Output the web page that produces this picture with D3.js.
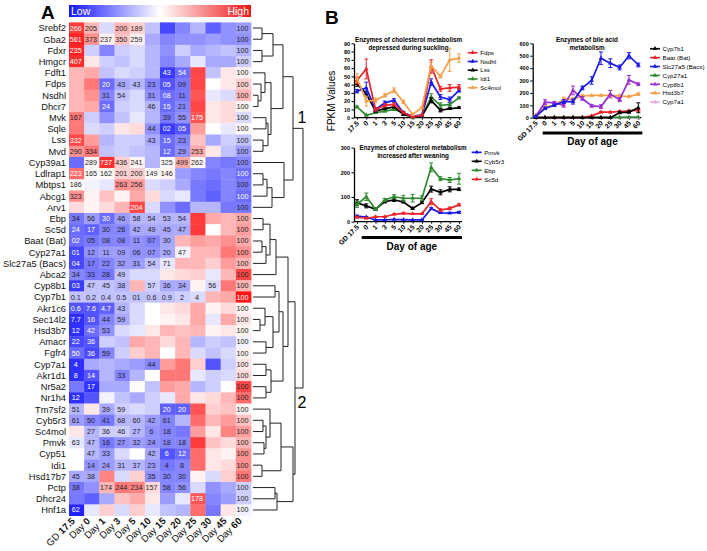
<!DOCTYPE html>
<html><head><meta charset="utf-8">
<script src="https://cdn.jsdelivr.net/npm/d3@7"></script>
<style>body{margin:0;background:#fff}svg{font-family:Arial,"Liberation Sans",Helvetica,sans-serif}</style>
</head><body><svg id="c" width="707" height="551"></svg>
<script>
// ---------------- DATA ----------------
const ages = ["GD 17.5","Day 0","Day 1","Day 3","Day 5","Day 10","Day 15","Day 20","Day 25","Day 30","Day 45","Day 60"];
const agePrefix = ["GD ","Day ","Day ","Day ","Day ","Day ","Day ","Day ","Day ","Day ","Day ","Day "];
const ageNum = ["17.5","0","1","3","5","10","15","20","25","30","45","60"];
const ageTicksGD = ["GD 17.5","0","1","3","5","10","15","20","25","30","45","60"];

const genes = ["Srebf2","Gba2","Fdxr","Hmgcr","Fdft1","Fdps","Nsdhl","Dhcr7","Mvk","Sqle","Lss","Mvd","Cyp39a1","Ldlrap1","Mbtps1","Abcg1","Arv1","Ebp","Sc5d","Baat (Bat)","Cyp27a1","Slc27a5 (Bacs)","Abca2","Cyp8b1","Cyp7b1","Akr1c6","Sec14l2","Hsd3b7","Amacr","Fgfr4","Cyp7a1","Akr1d1","Nr5a2","Nr1h4","Tm7sf2","Cyb5r3","Sc4mol","Pmvk","Cyp51","Idi1","Hsd17b7","Pctp","Dhcr24","Hnf1a"];

// relative expression (colour), -1 = low (blue) ... 1 = high (red)
const heatZ = [
 [0.8,0.3,-0.15,0.3,0.2,-0.25,-0.75,-0.5,-0.3,-0.65,-0.45,-0.4],
 [0.9,0.45,0.05,0.25,0.05,-0.35,-0.5,-0.45,-0.45,-0.4,-0.45,-0.45],
 [0.9,-0.2,-0.5,-0.2,-0.15,-0.3,-0.45,-0.2,-0.35,-0.3,-0.25,-0.3],
 [0.85,0.1,-0.2,-0.25,-0.15,-0.3,-0.5,-0.35,-0.1,-0.35,-0.35,-0.2],
 [0.3,0.35,-0.25,-0.15,-0.2,-0.3,-0.8,-0.6,0.75,-0.25,0.1,0.05],
 [0.3,0.55,-0.6,-0.35,-0.3,-0.5,-0.7,-0.55,0.75,0,0.1,0.2],
 [0.3,0.45,-0.5,-0.25,-0.15,-0.45,-0.6,-0.55,0.7,-0.1,-0.15,0.3],
 [0.3,0.35,-0.6,-0.2,-0.15,-0.3,-0.6,-0.5,0.75,0.1,0.15,0.05],
 [0.55,-0.2,-0.45,-0.25,-0.1,-0.3,-0.55,-0.45,0.7,0.1,0.15,-0.15],
 [0.55,-0.15,-0.2,0.1,0.15,-0.45,-0.8,-0.7,0.4,0,-0.1,0.02],
 [0.75,0.4,-0.3,-0.2,-0.2,-0.35,-0.6,-0.5,0.25,-0.35,-0.2,-0.25],
 [0.45,0.55,-0.25,-0.2,-0.25,-0.3,-0.6,-0.45,0.35,0.1,-0.25,-0.4],
 [-0.6,0.02,0.85,0.2,0.05,-0.3,0,0.35,0.05,-0.5,-0.55,-0.5],
 [0.6,0.02,0.02,0.2,0.2,0.02,0.05,-0.4,-0.5,-0.55,-0.5,-0.6],
 [0.02,-0.05,-0.1,0.45,0.4,-0.15,-0.2,-0.35,-0.55,-0.6,-0.5,-0.55],
 [0.45,0.05,0.25,0.05,0.35,0.15,-0.15,-0.1,-0.55,-0.65,-0.5,-0.6],
 [0.15,0.05,0.15,0.3,0.75,-0.15,-0.45,-0.6,-0.3,-0.3,-0.55,-0.55],
 [-0.55,-0.4,-0.6,-0.4,-0.3,-0.3,-0.3,-0.3,0.8,0.35,0.3,0.35],
 [-0.6,-0.65,-0.5,-0.5,-0.35,-0.35,-0.35,-0.35,0.8,0,0.3,0.4],
 [-0.6,-0.55,-0.5,-0.5,-0.45,-0.5,-0.35,0.3,0.4,0.35,0.45,0.35],
 [-0.75,-0.45,-0.4,-0.4,-0.45,-0.45,-0.35,-0.05,0.3,0.3,0.55,0.45],
 [-0.75,-0.55,-0.5,-0.4,-0.4,-0.25,-0.1,0.3,0.3,0.2,0.4,0.3],
 [-0.5,-0.55,-0.55,-0.25,-0.15,-0.15,0.1,0.15,0.2,-0.1,0.3,0.75],
 [-0.8,-0.25,-0.25,-0.3,0.3,-0.2,-0.35,-0.35,0.05,-0.15,0.55,0.3],
 [-0.25,-0.25,-0.25,-0.25,-0.25,-0.25,-0.25,-0.2,-0.15,0.3,0.35,0.95],
 [-0.7,-0.7,-0.65,-0.3,-0.15,0,0.1,0.15,0.35,0.05,0.15,0.05],
 [-0.85,-0.7,-0.5,-0.35,-0.15,0,0.05,0.1,0.35,-0.1,0.35,0.1],
 [-0.85,-0.6,-0.45,-0.15,-0.1,0.1,0.3,0.25,0.3,0.05,0.1,0.05],
 [-0.75,-0.7,-0.2,-0.25,0.35,0.3,0.15,0.3,-0.3,-0.2,-0.25,-0.05],
 [-0.6,-0.75,-0.5,-0.2,0.2,0.3,0,0.3,-0.15,-0.25,-0.15,0.05],
 [-0.85,-0.35,-0.3,-0.35,-0.4,-0.5,0.4,0.55,0.2,-0.7,-0.2,0.1],
 [-0.85,-0.7,-0.3,-0.5,-0.3,0,0.55,0.55,-0.1,-0.2,-0.15,0.15],
 [-0.55,-0.85,-0.35,-0.35,0.02,-0.25,0.4,0.35,-0.3,-0.2,0,0.75],
 [-0.85,-0.7,-0.05,-0.25,-0.35,-0.2,-0.1,0.35,0.1,0.15,0.3,0.6],
 [-0.3,0.1,-0.35,-0.2,-0.15,-0.2,-0.65,-0.65,0.7,0.2,0.25,0.05],
 [-0.4,-0.5,-0.55,-0.3,-0.3,-0.4,-0.5,-0.3,0.6,0.3,0.4,0.25],
 [0.1,-0.3,-0.2,-0.2,-0.3,-0.45,-0.5,-0.55,0.4,0.1,0.5,0.4],
 [-0.1,-0.3,-0.55,-0.45,-0.4,-0.45,-0.5,-0.5,0.8,0.25,0.15,0.3],
 [0,-0.3,-0.4,-0.15,0,-0.35,-0.7,-0.6,0.6,0.1,0.05,0.45],
 [0,-0.45,-0.4,-0.3,-0.3,-0.4,-0.55,-0.5,0.6,0.1,0.15,0.45],
 [-0.35,-0.35,0.5,-0.15,0.2,-0.45,-0.5,-0.5,0.05,-0.15,0.2,0.55],
 [-0.55,-0.45,0.3,0.55,0.5,0.15,-0.5,-0.45,-0.15,-0.45,-0.35,-0.2],
 [-0.55,-0.65,-0.35,0.25,0.35,0.1,-0.4,-0.1,0.7,-0.5,-0.4,-0.2],
 [-0.9,-0.1,0.2,-0.15,0.2,-0.1,-0.25,-0.3,0.6,-0.55,0.1,-0.05]
];

// printed percentages (relative to Day 60 = 100)
const heatText = [
 ["266","205","","200","189","","","","","","","100"],
 ["561","373","237","350","259","","","","","","","100"],
 ["235","","","","","","","","","","","100"],
 ["407","","","","","","","","","","","100"],
 ["","","","","","","43","54","","","","100"],
 ["","","20","43","43","23","05","09","","","","100"],
 ["","","31","54","","31","08","11","","","","100"],
 ["","","24","","","46","15","21","","","","100"],
 ["167","","","","","","39","55","175","","","100"],
 ["","","","","","44","02","05","","","","100"],
 ["332","","","","","43","15","23","","","","100"],
 ["290","334","","","","","12","29","253","","","100"],
 ["","289","737","436","241","","325","499","262","","","100"],
 ["223","165","162","201","200","149","146","","","","","100"],
 ["186","","","263","256","","","","","","","100"],
 ["323","","","","","","","","","","","100"],
 ["","","","","204","","","","","","","100"],
 ["34","56","30","46","58","54","53","54","","","","100"],
 ["24","17","30","26","42","49","45","47","","","","100"],
 ["02","05","08","08","11","07","30","","","","","100"],
 ["01","12","11","09","06","07","20","47","","","","100"],
 ["04","17","22","32","31","54","71","","","","","100"],
 ["34","33","28","49","","","","","","","","100"],
 ["03","47","45","38","","57","36","34","","56","","100"],
 ["0.1","0.2","0.4","0.5","01","0.6","0.9","2","4","","","100"],
 ["0.6","7.6","4.7","43","","","","","","","","100"],
 ["7.7","16","44","59","","","","","","","","100"],
 ["12","42","53","","","","","","","","","100"],
 ["22","36","","","","","","","","","","100"],
 ["50","36","59","","","","","","","","","100"],
 ["4","","","","","44","","","","","","100"],
 ["8","14","","33","","","","","","","","100"],
 ["","17","","","","","","","","","","100"],
 ["12","","","","","","","","","","","100"],
 ["51","","39","59","","","20","20","","","","100"],
 ["61","50","41","68","60","42","61","","","","","100"],
 ["","27","36","46","27","6","18","","","","","100"],
 ["63","47","16","27","32","24","18","18","","","","100"],
 ["","47","33","","","42","6","12","","","","100"],
 ["","14","24","31","37","23","4","8","","","","100"],
 ["45","38","","","","35","30","30","","","","100"],
 ["38","","174","244","234","157","58","56","","","","100"],
 ["","","","","","","","","178","","","100"],
 ["62","","","","","","","","","","","100"]
];

// hierarchical clustering merges: [node, left, right, distance]
const merges = [
 ["n1","Srebf2","Gba2",9],["n2","Fdxr","Hmgcr",9],["n3","n1","n2",20],
 ["n4","Nsdhl","Dhcr7",5],["n5","Fdps","n4",8],["n6","Fdft1","n5",12],
 ["n7","Mvk","Sqle",13],["n8","Lss","Mvd",10],["n9","n7","n8",15],
 ["n10","n6","n9",18],["n11","n3","n10",30],
 ["n12","Ldlrap1","Mbtps1",10],["n13","n12","Abcg1",14],["n14","n13","Arv1",19],
 ["n15","Cyp39a1","n14",31],["c1","n11","n15",40],
 ["a1","Ebp","Sc5d",10],["a2","Baat (Bat)","Cyp27a1",9],["a3","a2","Slc27a5 (Bacs)",13],
 ["a4","a1","a3",17],["a5","a4","Abca2",23],
 ["b1","Cyp8b1","Cyp7b1",22],["b2","Sec14l2","Hsd3b7",7],["b3","Akr1c6","b2",12],
 ["b4","Amacr","Fgfr4",13],["b5","b3","b4",20],["b6","b1","b5",26],
 ["d1","Cyp7a1","Akr1d1",13],["d2","Nr5a2","Nr1h4",13],["d3","d1","d2",18],
 ["g1","b6","d3",30],["g2","a5","g1",35],
 ["e1","Cyb5r3","Sc4mol",10],["e2","Pmvk","Cyp51",11],["e3","e1","e2",13],
 ["e4","Tm7sf2","e3",17],["e5","Idi1","Hsd17b7",9],["e6","e4","e5",28],
 ["f1","Pctp","Dhcr24",22],["f2","f1","Hnf1a",24],["f3","e6","f2",40],
 ["c2","g2","f3",42],["root","c1","c2",50]
];

// Panel B – FPKM values
const b1Names = ["Fdps","Nsdhl","Lss","Idi1","Sc4mol"];
const b1Fdps   = [45,59,10,15,16,6,1,3,62,35,36,37];
const b1Nsdhl  = [32,36,10,18,21,6,2,3,43,25,22,33];
const b1Lss    = [41,29,8,11,13,4,1,2,21,9,11,12];
const b1Idi1   = [13,3,6,8,10,6,1,2,25,15,16,24];
const b1Sc4mol = [48,20,21,27,33,19,4,12,63,50,70,72];
const b1Err = [[4,12,2,2,2,1,0.5,0.5,8,3,4,3],[2,7,2,2,2,1,0.5,0.5,4,3,3,2],[3,3,1,1,1,1,0.5,0.5,3,2,1,1],[1,1,1,1,1,1,0.5,0.5,4,3,2,1],[5,6,3,2,3,2,1,1,4,2,14,5]];

const b2Names = ["Pmvk","Cyb5r3","Ebp","Sc5d"];
const b2Pmvk   = [23,19,7,7,9,8,7,7,53,36,35,38];
const b2Cyb5r3 = [77,64,50,81,88,80,54,77,132,119,131,131];
const b2Ebp    = [70,101,50,88,101,95,95,95,220,174,169,174];
const b2Sc5d   = [18,14,20,20,30,34,32,32,81,47,54,68];
const b2Err = [[3,2,1,1,1,1,1,1,4,3,3,3],[12,8,3,5,6,4,4,4,12,10,10,5],[12,15,3,6,8,12,15,10,18,8,10,22],[3,2,2,2,2,2,2,2,12,5,5,4]];

const b3Names = ["Cyp7b1","Baat (Bat)","Slc27a5 (Bacs)","Cyp27a1","Cyp8b1","Hsd3b7","Cyp7a1"];
const b3Cyp7b1  = [0,0,0,0,0,0,0,0,0,40,45,80];
const b3Baat    = [0,0,0,0,0,0,15,45,45,50,55,60];
const b3Slc27a5 = [8,75,100,130,130,240,300,480,440,405,500,425];
const b3Cyp27a1 = [0,1,2,2,2,2,3,3,3,3,4,4];
const b3Cyp8b1  = [8,125,120,100,220,155,95,90,190,145,305,270];
const b3Hsd3b7  = [20,85,100,150,150,175,180,180,180,175,170,190];
const b3Cyp7a1  = [0,0,0,0,0,0,0,0,0,0,0,0];
const b3Err = [[0,0,0,0,0,0,0,0,0,8,8,40],[0,0,0,0,0,0,3,5,5,5,5,5],[5,10,10,15,20,15,30,50,35,20,25,15],[0,0,0,0,0,0,0,0,0,0,0,0],[5,20,10,15,35,15,10,15,30,15,35,10],[5,10,5,15,10,10,5,5,10,10,5,10],[0,0,0,0,0,0,0,0,0,0,0,0]];

// ---------------- DRAW ----------------
const svg = d3.select("#c");

// Panel letters
svg.append("text").attr("x",41).attr("y",19).attr("font-size",19).attr("font-weight","bold").text("A");
svg.append("text").attr("x",325).attr("y",24).attr("font-size",19).attr("font-weight","bold").text("B");

// Heatmap
const hx = d3.scaleBand().domain(ages).range([69,251]);
const hy = d3.scaleBand().domain(genes).range([22.4,515.6]);
const col = d3.scaleLinear().domain([-1,0,1]).range(["#0a0aff","#ffffff","#ff0a0a"]);

// colour key
const defs = svg.append("defs");
const grad = defs.append("linearGradient").attr("id","key");
[["0%","#1414ff"],["50%","#ffffff"],["100%","#f01414"]].forEach(s=>grad.append("stop").attr("offset",s[0]).attr("stop-color",s[1]));
svg.append("rect").attr("x",hx.range()[0]).attr("y",5).attr("width",hx.range()[1]-hx.range()[0]).attr("height",12).attr("fill","url(#key)");
svg.append("text").attr("x",hx.range()[0]+2).attr("y",15).attr("fill","#fff").attr("font-size",10.5).text("Low");
svg.append("text").attr("x",hx.range()[1]-2).attr("y",15).attr("fill","#fff").attr("font-size",10.5).attr("text-anchor","end").text("High");

const cells = [];
genes.forEach((g,i)=>ages.forEach((a,j)=>cells.push({g,a,z:heatZ[i][j],t:heatText[i][j]})));
svg.append("g").selectAll("rect").data(cells).join("rect")
  .attr("x",d=>hx(d.a)).attr("y",d=>hy(d.g))
  .attr("width",hx.bandwidth()+0.4).attr("height",hy.bandwidth()+0.4)
  .attr("fill",d=>col(d.z));
svg.append("g").selectAll("text").data(cells.filter(d=>d.t!=="")).join("text")
  .attr("x",d=>hx(d.a)+hx.bandwidth()/2-0.8).attr("y",d=>hy(d.g)+hy.bandwidth()/2+2.5)
  .attr("text-anchor","middle").attr("font-size",7.2)
  .attr("fill",d=>(d.z<-0.55||(d.z>0.55&&d.t!=="100")||d.z>0.9)?"#ffffff":"#222")
  .text(d=>d.t);

// gene labels
svg.append("g").selectAll("text").data(genes).join("text")
  .attr("x",66).attr("y",d=>hy(d)+hy.bandwidth()/2+3.4)
  .attr("text-anchor","end").attr("font-size",9.3).attr("fill","#111").text(d=>d);

// time labels
const tl = svg.append("g").selectAll("text").data(ages).join("text")
  .attr("transform",d=>`translate(${hx(d)+hx.bandwidth()/2-1},${hy.range()[1]+6}) rotate(-45)`)
  .attr("text-anchor","end").attr("font-size",9.6).attr("fill","#111");
tl.append("tspan").text((d,i)=>agePrefix[i]);
tl.append("tspan").attr("font-weight","bold").text((d,i)=>ageNum[i]);

// Dendrogram
const dx = d3.scaleLinear().domain([0,50]).range([253,303]);
const nodes = {};
genes.forEach(g=>nodes[g]={y:hy(g)+hy.bandwidth()/2,d:0});
merges.forEach(([id,a,b,h])=>{nodes[id]={y:(nodes[a].y+nodes[b].y)/2,d:h,a,b};});
svg.append("g").selectAll("path").data(merges).join("path")
  .attr("d",([id,a,b,h])=>`M${dx(nodes[a].d)},${nodes[a].y}H${dx(h)}V${nodes[b].y}H${dx(nodes[b].d)}`)
  .attr("fill","none").attr("stroke","#222").attr("stroke-width",1);
svg.append("text").attr("x",dx(50)-1).attr("y",nodes.c1.y-5).attr("text-anchor","middle").attr("font-size",16).text("1");
svg.append("text").attr("x",dx(50)-1).attr("y",nodes.c2.y+20).attr("text-anchor","middle").attr("font-size",16).text("2");

// FPKM label
svg.append("text").attr("transform","translate(335,101) rotate(-90)").attr("text-anchor","middle").attr("font-size",10).text("FPKM Values");

const tri = d3.symbol().type(d3.symbolTriangle).size(9);

function lineChart(o){
  const g = svg.append("g");
  const x = d3.scalePoint().domain(ages).range(o.xr);
  const y = d3.scaleLinear().domain(o.yd).range(o.yr);
  const x0 = o.xr[0]-3, x1 = o.xr[1]+3;
  const gy = g.append("g").attr("transform",`translate(${x0},0)`)
    .call(d3.axisLeft(y).tickValues(o.yt).tickSize(2.5).tickSizeOuter(0).tickPadding(1.5));
  gy.selectAll("text").attr("font-size",5.5).attr("font-weight","bold").attr("font-family","Arial,Liberation Sans,sans-serif");
  gy.select(".domain").attr("stroke-width",1.3);
  gy.selectAll(".tick line").attr("stroke-width",1);
  const gx = g.append("g").attr("transform",`translate(0,${y(0)})`)
    .call(d3.axisBottom(x).tickSize(2).tickSizeOuter(0).tickFormat(""));
  gx.select(".domain").remove();
  g.append("line").attr("x1",x0).attr("x2",x1).attr("y1",y(0)).attr("y2",y(0)).attr("stroke","#000").attr("stroke-width",1.3);
  g.append("g").selectAll("text").data(ages).join("text")
    .attr("transform",d=>`translate(${x(d)+2.5},${y(0)+6}) rotate(-45)`)
    .attr("text-anchor","end").attr("font-size",6.8).attr("font-weight","bold")
    .text((d,i)=>o.xl[i]);
  if(o.bar){
    g.append("rect").attr("x",o.bar[0]).attr("y",o.bar[1]).attr("width",o.bar[2]-o.bar[0]).attr("height",3).attr("fill","#000");
    g.append("text").attr("x",(o.bar[0]+o.bar[2])/2).attr("y",o.bar[1]+13.5).attr("text-anchor","middle")
      .attr("font-size",10).attr("font-weight","bold").text("Day of age");
  }
  o.title.forEach((t,i)=>g.append("text").attr("x",o.tx).attr("y",o.ty+i*8).attr("text-anchor","middle")
    .attr("font-size",6.3).attr("font-weight","bold").text(t));
  const line = d3.line().x((d,i)=>x(ages[i])).y(d=>y(d));
  o.order.forEach(k=>{
    const s = o.series[k];
    const sg = g.append("g");
    sg.append("path").attr("d",line(s.v)).attr("fill","none").attr("stroke",s.c).attr("stroke-width",1.7);
    s.v.forEach((v,i)=>{
      const e = s.e[i]; if(e<=0) return;
      const px = x(ages[i]);
      sg.append("path").attr("d",`M${px},${y(Math.max(0,v-e))}V${y(v+e)}M${px-2},${y(v+e)}H${px+2}M${px-2},${y(Math.max(0,v-e))}H${px+2}`)
        .attr("stroke",s.c).attr("stroke-width",1).attr("fill","none");
    });
    sg.selectAll("path.m").data(s.v).join("path").attr("class","m")
      .attr("transform",(d,i)=>`translate(${x(ages[i])},${y(d)})`).attr("d",tri).attr("fill",s.c);
  });
  o.series.forEach((s,i)=>{
    const ly = o.ly+i*o.ls;
    g.append("line").attr("x1",o.lx).attr("x2",o.lx+10).attr("y1",ly).attr("y2",ly).attr("stroke",s.c).attr("stroke-width",1.6);
    g.append("path").attr("transform",`translate(${o.lx+5},${ly})`).attr("d",tri).attr("fill",s.c);
    g.append("text").attr("x",o.lx+12.5).attr("y",ly+2.2).attr("font-size",6.2).text(s.n);
  });
}

const RED="#e8242c", BLUE="#1a1ae6", BLACK="#000000", GREEN="#2f8a2f", ORANGE="#f2a04a", PURPLE="#9a2fd0", PINK="#e6a6ea";

lineChart({
  xr:[357,459], yd:[0,90], yr:[117.7,43.3], yt:d3.range(0,91,10), xl:ageNum,
  title:["Enzymes of cholesterol metabolism","depressed during suckling"], tx:408.5, ty:41.5,
  series:[
    {n:b1Names[0],v:b1Fdps,e:b1Err[0],c:RED},
    {n:b1Names[1],v:b1Nsdhl,e:b1Err[1],c:BLUE},
    {n:b1Names[2],v:b1Lss,e:b1Err[2],c:BLACK},
    {n:b1Names[3],v:b1Idi1,e:b1Err[3],c:GREEN},
    {n:b1Names[4],v:b1Sc4mol,e:b1Err[4],c:ORANGE}],
  order:[3,2,1,0,4], lx:467.7, ly:52.7, ls:8.75
});
lineChart({
  xr:[357,459], yd:[0,300], yr:[221.7,147.6], yt:[0,100,200,300], xl:ageTicksGD,
  bar:[361.7,236,462],
  title:["Enzymes of cholesterol metabolism","increased after weaning"], tx:413, ty:150,
  series:[
    {n:b2Names[0],v:b2Pmvk,e:b2Err[0],c:BLUE},
    {n:b2Names[1],v:b2Cyb5r3,e:b2Err[1],c:BLACK},
    {n:b2Names[2],v:b2Ebp,e:b2Err[2],c:GREEN},
    {n:b2Names[3],v:b2Sc5d,e:b2Err[3],c:RED}],
  order:[0,3,1,2], lx:471.7, ly:152.3, ls:9
});
lineChart({
  xr:[535.7,638.3], yd:[0,600], yr:[117.7,43.3], yt:d3.range(0,601,100), xl:ageTicksGD,
  bar:[542.7,131.5,642.3],
  title:["Enzymes of bile acid","metabolism"], tx:587, ty:41.5,
  series:[
    {n:b3Names[0],v:b3Cyp7b1,e:b3Err[0],c:BLACK},
    {n:b3Names[1],v:b3Baat,e:b3Err[1],c:RED},
    {n:b3Names[2],v:b3Slc27a5,e:b3Err[2],c:BLUE},
    {n:b3Names[3],v:b3Cyp27a1,e:b3Err[3],c:GREEN},
    {n:b3Names[4],v:b3Cyp8b1,e:b3Err[4],c:PURPLE},
    {n:b3Names[5],v:b3Hsd3b7,e:b3Err[5],c:ORANGE},
    {n:b3Names[6],v:b3Cyp7a1,e:b3Err[6],c:PINK}],
  order:[6,3,1,0,5,4,2], lx:650, ly:48.7, ls:8.9
});
</script></body></html>
